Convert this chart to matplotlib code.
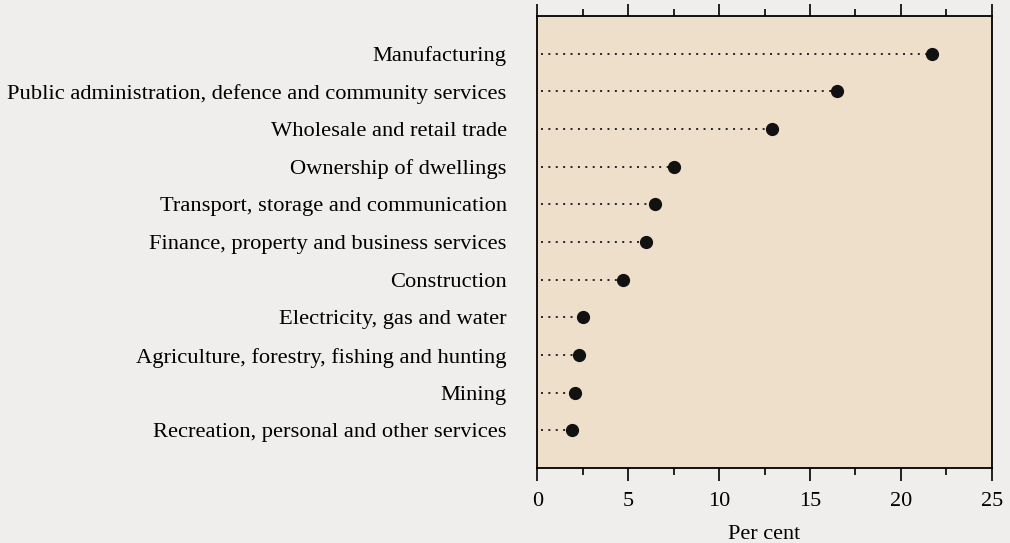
import numpy as np
import matplotlib
matplotlib.use('Agg')
import matplotlib.pyplot as plt
from matplotlib.ticker import MultipleLocator

industries = [
    'Manufacturing',
    'Public administration, defence and community services',
    'Wholesale and retail trade',
    'Ownership of dwellings',
    'Transport, storage and communication',
    'Finance, property and business services',
    'Construction',
    'Electricity, gas and water',
    'Agriculture, forestry, fishing and hunting',
    'Mining',
    'Recreation, personal and other services',
]
share = [21.7, 16.5, 12.9, 7.5, 6.5, 6.0, 4.7, 2.5, 2.3, 2.1, 1.9]

plt.rcParams['font.family'] = ['Liberation Serif', 'DejaVu Serif']

fig = plt.figure(figsize=(10.1, 5.43), dpi=100, facecolor='#efeeec')
ax = fig.add_axes([0.532, 0.138, 0.45, 0.8325])
ax.set_facecolor('#eddfca')

ypos = np.arange(len(industries))
ax.hlines(ypos, 0.2, share, colors='#222222', linestyles=(0, (1, 2.8)), linewidth=1.4)
ax.plot(share, ypos, 'o', color='#111111', markersize=8.5)

ax.set_xlim(0, 25)
ax.set_ylim(len(industries), -1)
ax.set_yticks(ypos)
ax.set_yticklabels(industries, fontsize=16.2)
ax.tick_params(axis='y', length=0, pad=22)

ax.xaxis.set_major_locator(MultipleLocator(5))
ax.xaxis.set_minor_locator(MultipleLocator(2.5))
ax.tick_params(axis='x', which='major', direction='out', length=9, width=1.2,
               top=True, labelsize=16, pad=8)
ax.tick_params(axis='x', which='minor', direction='out', length=5, width=1.2, top=True)
ax.set_xlabel('Per cent', fontsize=16, labelpad=10)

for s in ax.spines.values():
    s.set_linewidth(1.3)

plt.savefig('out.png', dpi=100, facecolor=fig.get_facecolor())
